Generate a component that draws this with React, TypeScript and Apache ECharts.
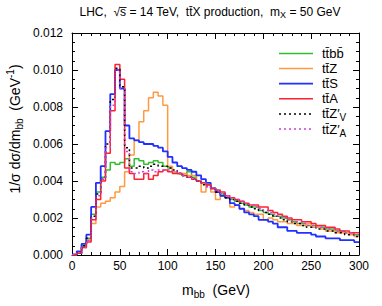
import React, { useEffect, useRef } from "react";
import * as echarts from "echarts";

const BIN_WIDTH = 5; // GeV
const X_MAX = 300;

// histogram contents per 5 GeV bin, 0..300 GeV (normalised, GeV^-1)
const ttbb = [
  0.00002, 0.0001, 0.0005, 0.0009, 0.0022, 0.0034, 0.0042, 0.0046, 0.005, 0.0049,
  0.005, 0.0052, 0.0048, 0.0052, 0.0051, 0.0049, 0.005, 0.0051, 0.005, 0.0048,
  0.0047, 0.0045, 0.0044, 0.0043, 0.0045, 0.0042, 0.004, 0.0039, 0.0038, 0.0036,
  0.0035, 0.0033, 0.0031, 0.003, 0.0029, 0.0028, 0.0027, 0.0026, 0.0026, 0.0024,
  0.0023, 0.0022, 0.0021, 0.0021, 0.002, 0.0019, 0.0018, 0.0017, 0.0017, 0.0016,
  0.0016, 0.0015, 0.0015, 0.0014, 0.0014, 0.0013, 0.0013, 0.0012, 0.0012, 0.0011,
];
const ttZ = [
  0.00002, 0.0001, 0.0004, 0.0008, 0.0017, 0.0026, 0.0028, 0.0029, 0.0031, 0.0034,
  0.0037, 0.0045, 0.0054, 0.0062, 0.0072, 0.0078, 0.0085, 0.0088, 0.0086, 0.0081,
  0.0048, 0.0045, 0.0044, 0.0044, 0.0043, 0.0043, 0.004, 0.0034, 0.0038, 0.0034,
  0.003, 0.0032, 0.0031, 0.0026, 0.0027, 0.0025, 0.0024, 0.0023, 0.0022, 0.0022,
  0.0019, 0.002, 0.0019, 0.0018, 0.0018, 0.0017, 0.0017, 0.0016, 0.0016, 0.0017,
  0.0015, 0.0015, 0.0014, 0.0013, 0.0013, 0.0012, 0.0012, 0.0012, 0.0011, 0.001,
];
const ttS = [
  0.00003, 0.0002, 0.0006, 0.0011, 0.0026, 0.0039, 0.0048, 0.0067, 0.0087, 0.01,
  0.009, 0.007, 0.0063, 0.0062, 0.0061, 0.006, 0.006, 0.0059, 0.0058, 0.0056,
  0.0053, 0.005, 0.0048, 0.0047, 0.0046, 0.0045, 0.0043, 0.0041, 0.0039, 0.0036,
  0.0034, 0.0032, 0.0031, 0.0028, 0.0027, 0.0025, 0.0023, 0.0022, 0.0021, 0.0019,
  0.0019, 0.0018, 0.0017, 0.0015, 0.0015, 0.0013, 0.0013, 0.0012, 0.0012, 0.0012,
  0.0011, 0.001, 0.001, 0.0009, 0.0009, 0.0009, 0.0008, 0.0008, 0.0008, 0.0007,
];
const ttA = [
  0.00002, 0.0001, 0.0004, 0.0007, 0.0019, 0.003, 0.004, 0.0055, 0.0078, 0.0103,
  0.0095, 0.0047, 0.0044, 0.0041, 0.0041, 0.0044, 0.0041, 0.0043, 0.0045, 0.0046,
  0.0045, 0.0044, 0.0044, 0.0043, 0.0042, 0.0041, 0.004, 0.0039, 0.0038, 0.0036,
  0.0035, 0.0034, 0.0032, 0.0031, 0.003, 0.0029, 0.0028, 0.0027, 0.0027, 0.0026,
  0.0026, 0.0024, 0.0023, 0.0022, 0.0021, 0.002, 0.0019, 0.0019, 0.0018, 0.0018,
  0.0017, 0.0016, 0.0016, 0.0015, 0.0015, 0.0014, 0.0013, 0.0013, 0.0012, 0.0012,
];
const ttZV = [
  0.00002, 0.0001, 0.0005, 0.0009, 0.0021, 0.0033, 0.0041, 0.006, 0.0084, 0.0101,
  0.0091, 0.0058, 0.0047, 0.0047, 0.0048, 0.0047, 0.0048, 0.0049, 0.0048, 0.0048,
  0.0047, 0.0046, 0.0044, 0.0043, 0.0042, 0.0041, 0.004, 0.0038, 0.0037, 0.0036,
  0.0034, 0.0033, 0.0031, 0.003, 0.0029, 0.0028, 0.0027, 0.0026, 0.0025, 0.0024,
  0.0023, 0.0022, 0.0021, 0.002, 0.0019, 0.0018, 0.0017, 0.0017, 0.0016, 0.0015,
  0.0015, 0.0014, 0.0014, 0.0013, 0.0013, 0.0012, 0.0012, 0.0011, 0.0011, 0.001,
];
const ttZA = [
  0.00002, 0.0001, 0.0004, 0.0008, 0.002, 0.0032, 0.0041, 0.0058, 0.0081, 0.01,
  0.009, 0.0056, 0.0045, 0.0044, 0.0045, 0.0044, 0.0046, 0.0045, 0.0046, 0.0046,
  0.0046, 0.0045, 0.0044, 0.0043, 0.0042, 0.0041, 0.004, 0.0039, 0.0037, 0.0036,
  0.0035, 0.0033, 0.0032, 0.0031, 0.003, 0.0029, 0.0028, 0.0027, 0.0026, 0.0025,
  0.0024, 0.0023, 0.0022, 0.0021, 0.002, 0.0019, 0.0018, 0.0018, 0.0017, 0.0016,
  0.0016, 0.0015, 0.0015, 0.0014, 0.0014, 0.0013, 0.0013, 0.0012, 0.0012, 0.0011,
];

const FONT = '"Liberation Sans", Arial, Helvetica, sans-serif';
const BAR = "\u0304";

type Run = { t: string; s: number; dy?: number };

const seriesDefs = [
  { name: "ttbb", data: ttbb, color: "#2ec02e", dash: "solid" as any, width: 1.5, legend: [{ t: "tt" + BAR + "bb" + BAR, s: 13 }] },
  { name: "ttZ", data: ttZ, color: "#ff9a40", dash: "solid" as any, width: 1.5, legend: [{ t: "tt" + BAR + "Z", s: 13 }] },
  { name: "ttS", data: ttS, color: "#2030ff", dash: "solid" as any, width: 1.8, legend: [{ t: "tt" + BAR + "S", s: 13 }] },
  { name: "ttA", data: ttA, color: "#ff2030", dash: "solid" as any, width: 1.5, legend: [{ t: "tt" + BAR + "A", s: 13 }] },
  { name: "ttZ'V", data: ttZV, color: "#000000", dash: [2, 3] as any, width: 1.5, legend: [{ t: "tt" + BAR + "Z\u2032", s: 13 }, { t: "V", s: 10, dy: 4 }] },
  { name: "ttZ'A", data: ttZA, color: "#d040d8", dash: [2, 3] as any, width: 1.5, legend: [{ t: "tt" + BAR + "Z\u2032", s: 13 }, { t: "A", s: 10, dy: 4 }] },
];

let measureCtx: CanvasRenderingContext2D | null = null;
function tw(t: string, s: number) {
  if (!measureCtx) measureCtx = document.createElement("canvas").getContext("2d");
  measureCtx!.font = `${s}px "Liberation Sans"`;
  return measureCtx!.measureText(t).width;
}

function runsWidth(runs: Run[]) {
  return runs.reduce((a, r) => a + tw(r.t, r.s), 0);
}

function buildRuns(runs: Run[], x0: number, y: number, color = "#000") {
  const els: any[] = [];
  let x = x0;
  for (const r of runs) {
    els.push({
      type: "text",
      x,
      y: y + (r.dy || 0),
      silent: true,
      style: {
        text: r.t,
        fontSize: r.s,
        fontFamily: FONT,
        fill: color,
        align: "left",
        verticalAlign: "middle",
        textAlign: "left",
        textVerticalAlign: "middle",
      },
    });
    x += tw(r.t, r.s);
  }
  return els;
}

function histData(values: number[]) {
  const pts: [number, number][] = values.map((v, i) => [i * BIN_WIDTH, v]);
  pts.push([X_MAX, values[values.length - 1]]);
  return pts;
}

export default function App() {
  const ref = useRef<HTMLDivElement>(null);
  useEffect(() => {
    if (!ref.current) return;
    const chart = echarts.init(ref.current, undefined, { renderer: "svg" });

    const axisCommon = {
      axisLine: { show: true, onZero: false, lineStyle: { color: "#000", width: 1 } },
      axisTick: { show: true, inside: true, length: 6, lineStyle: { color: "#000", width: 1 } },
      minorTick: { show: true, length: 3, lineStyle: { color: "#000", width: 1 } },
      splitLine: { show: false },
      minorSplitLine: { show: false },
    };

    const gridLeft = 72, gridTop = 33;

    // title
    const titleRuns: Run[] = [
      { t: "LHC,\u00a0\u00a0\u221As\u0305 = 14 TeV,\u00a0\u00a0tt" + BAR + "X production,\u00a0\u00a0m", s: 12 },
      { t: "X", s: 9, dy: 3 },
      { t: " = 50 GeV", s: 12 },
    ];
    const titleW = runsWidth(titleRuns);
    const titleEls = buildRuns(titleRuns, 210 - titleW / 2, 12);

    // x axis title
    const xtRuns: Run[] = [
      { t: "m", s: 14 },
      { t: "bb", s: 10, dy: 4 },
      { t: "\u00a0\u00a0(GeV)", s: 14 },
    ];
    const xtW = runsWidth(xtRuns);
    const xtEls = buildRuns(xtRuns, 216 - xtW / 2, 290);

    // y axis title (rotated)
    const ytRuns: Run[] = [
      { t: "1/\u03c3 d\u03c3/dm", s: 14 },
      { t: "bb", s: 10, dy: 4 },
      { t: "\u00a0\u00a0(GeV", s: 14 },
      { t: "-1", s: 10, dy: -5 },
      { t: ")", s: 14 },
    ];
    const ytW = runsWidth(ytRuns);
    const ytGroup = {
      type: "group",
      x: 15,
      y: 129,
      rotation: Math.PI / 2,
      children: buildRuns(ytRuns, -ytW / 2, 0),
    };

    // legend
    const legendEls: any[] = [];
    seriesDefs.forEach((s, i) => {
      const y = 53.5 + i * 15.1;
      legendEls.push({
        type: "line",
        silent: true,
        shape: { x1: 279, y1: y, x2: 313, y2: y },
        style: { stroke: s.color, lineWidth: s.width, lineDash: Array.isArray(s.dash) ? s.dash : null },
      });
      legendEls.push(...buildRuns(s.legend as Run[], 322, y));
    });

    chart.setOption({
      animation: false,
      backgroundColor: "#ffffff",
      grid: { left: gridLeft, right: 23, top: gridTop, bottom: 51, containLabel: false },
      xAxis: [
        {
          type: "value", min: 0, max: X_MAX, interval: 50, position: "bottom",
          ...axisCommon,
          minorTick: { ...axisCommon.minorTick, splitNumber: 5 },
          axisLabel: { show: true, color: "#000", fontSize: 12, fontFamily: FONT, margin: 5 },
        },
        {
          type: "value", min: 0, max: X_MAX, interval: 50, position: "top",
          ...axisCommon,
          minorTick: { ...axisCommon.minorTick, splitNumber: 5 },
          axisLabel: { show: false },
        },
      ],
      yAxis: [
        {
          type: "value", min: 0, max: 0.012, interval: 0.002, position: "left",
          ...axisCommon,
          minorTick: { ...axisCommon.minorTick, splitNumber: 4 },
          axisLabel: {
            show: true, color: "#000", fontSize: 12, fontFamily: FONT, margin: 9,
            formatter: (v: number) => v.toFixed(3),
          },
        },
        {
          type: "value", min: 0, max: 0.012, interval: 0.002, position: "right",
          ...axisCommon,
          minorTick: { ...axisCommon.minorTick, splitNumber: 4 },
          axisLabel: { show: false },
        },
      ],
      series: seriesDefs.map((s) => ({
        name: s.name,
        type: "line",
        step: "end",
        xAxisIndex: 0,
        yAxisIndex: 0,
        showSymbol: false,
        symbol: "none",
        data: histData(s.data),
        lineStyle: { color: s.color, width: s.width, type: s.dash },
        itemStyle: { color: s.color },
        silent: true,
      })),
      graphic: [...titleEls, ...xtEls, ytGroup, ...legendEls],
    });

    return () => chart.dispose();
  }, []);

  return (
    <div
      ref={ref}
      style={{ position: "fixed", left: 0, top: 0, width: 382, height: 306, background: "#fff" }}
    />
  );
}
